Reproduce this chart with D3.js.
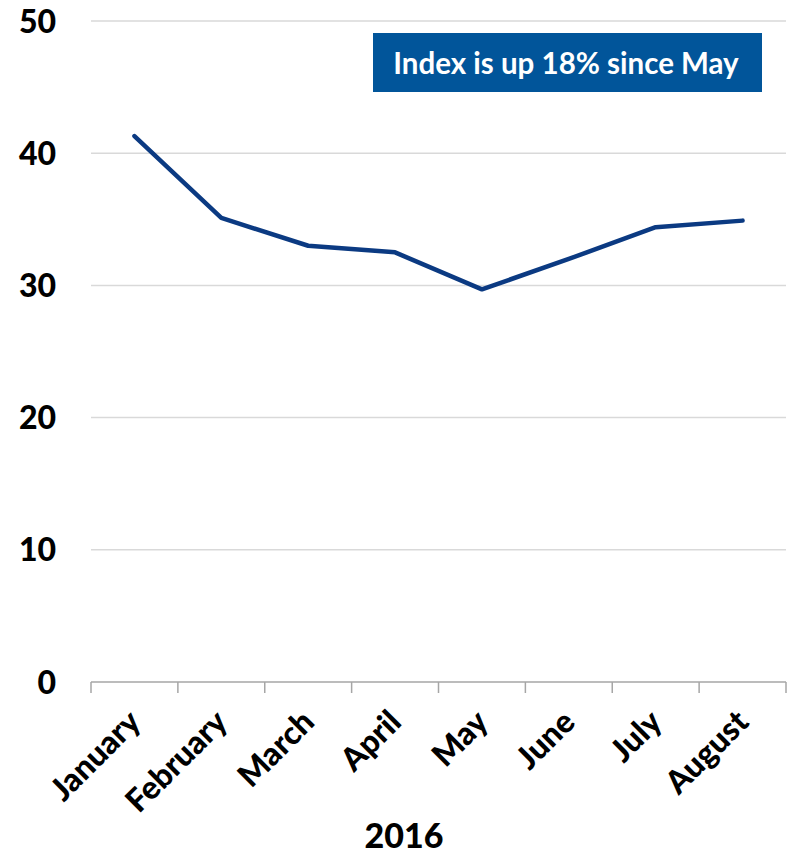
<!DOCTYPE html>
<html>
<head>
<meta charset="utf-8">
<script src="https://cdn.jsdelivr.net/npm/d3@7"></script>
<style>
  body { margin: 0; background: #fff; }
  text { font-family: Lato, "Open Sans", sans-serif; font-weight: 700; }
  .heavy { font-weight: 900; }
</style>
</head>
<body>
<svg id="chart" width="794" height="855"></svg>
<script>
// data
const months = ['January', 'February', 'March', 'April', 'May', 'June', 'July', 'August'];
const indexValues = [41.3, 35.1, 33.0, 32.5, 29.7, 32.0, 34.4, 34.9];
const yTicks = [0, 10, 20, 30, 40, 50];
const xTitle = '2016';
const note = 'Index is up 18% since May';

const width = 794;
const height = 855;
const margin = { top: 21, right: 8, bottom: 173, left: 91 };

const svg = d3.select('#chart');

const x = d3.scaleBand()
  .domain(months)
  .range([margin.left, width - margin.right])
  .padding(0);

const y = d3.scaleLinear()
  .domain([0, 50])
  .range([height - margin.bottom, margin.top]);

// gridlines
svg.append('g')
  .selectAll('line')
  .data(yTicks.filter((d) => d > 0))
  .enter()
  .append('line')
  .attr('x1', margin.left)
  .attr('x2', width - margin.right)
  .attr('y1', (d) => y(d))
  .attr('y2', (d) => y(d))
  .style('stroke', '#d9d9d9')
  .style('stroke-width', 1.5);

// y labels
svg.append('g')
  .selectAll('text')
  .data(yTicks)
  .enter()
  .append('text')
  .attr('class', 'heavy')
  .attr('x', 56)
  .attr('y', (d) => y(d))
  .attr('dy', '0.36em')
  .attr('text-anchor', 'end')
  .style('font-size', '32px')
  .style('fill', '#000')
  .text((d) => d);

// x axis with ticks at band edges
const xAxis = svg.append('g');
xAxis.append('line')
  .attr('x1', margin.left)
  .attr('x2', width - margin.right)
  .attr('y1', y(0))
  .attr('y2', y(0))
  .style('stroke', '#a6a6a6')
  .style('stroke-width', 1.5);

const edges = months.map((m) => x(m)).concat([x(months[months.length - 1]) + x.bandwidth()]);
xAxis.selectAll('.tick')
  .data(edges)
  .enter()
  .append('line')
  .attr('class', 'tick')
  .attr('x1', (d) => d)
  .attr('x2', (d) => d)
  .attr('y1', y(0))
  .attr('y2', y(0) + 11)
  .style('stroke', '#a6a6a6')
  .style('stroke-width', 1.5);

xAxis.selectAll('.label')
  .data(months)
  .enter()
  .append('text')
  .attr('class', 'label heavy')
  .attr('text-anchor', 'end')
  .attr('transform', (d) => `translate(${x(d) + x.bandwidth() / 2 + 8}, ${y(0) + 42}) rotate(-45)`)
  .style('font-size', '32px')
  .style('fill', '#000')
  .text((d) => d);

svg.append('text')
  .attr('class', 'heavy')
  .attr('x', 404)
  .attr('y', 848)
  .attr('text-anchor', 'middle')
  .style('font-size', '34px')
  .style('fill', '#000')
  .text(xTitle);

// line
const line = d3.line()
  .x((d, i) => x(months[i]) + x.bandwidth() / 2)
  .y((d) => y(d));

svg.append('path')
  .datum(indexValues)
  .attr('d', line)
  .style('fill', 'none')
  .style('stroke', '#0b3a82')
  .style('stroke-width', 4.5)
  .style('stroke-linecap', 'round')
  .style('stroke-linejoin', 'round');

// annotation box
svg.append('rect')
  .attr('x', 373)
  .attr('y', 33)
  .attr('width', 389)
  .attr('height', 59)
  .style('fill', '#01559a');

svg.append('text')
  .attr('x', 566)
  .attr('y', 63)
  .attr('dy', '0.36em')
  .attr('text-anchor', 'middle')
  .style('font-size', '29.5px')
  .style('fill', '#fff')
  .text(note);
</script>
</body>
</html>
